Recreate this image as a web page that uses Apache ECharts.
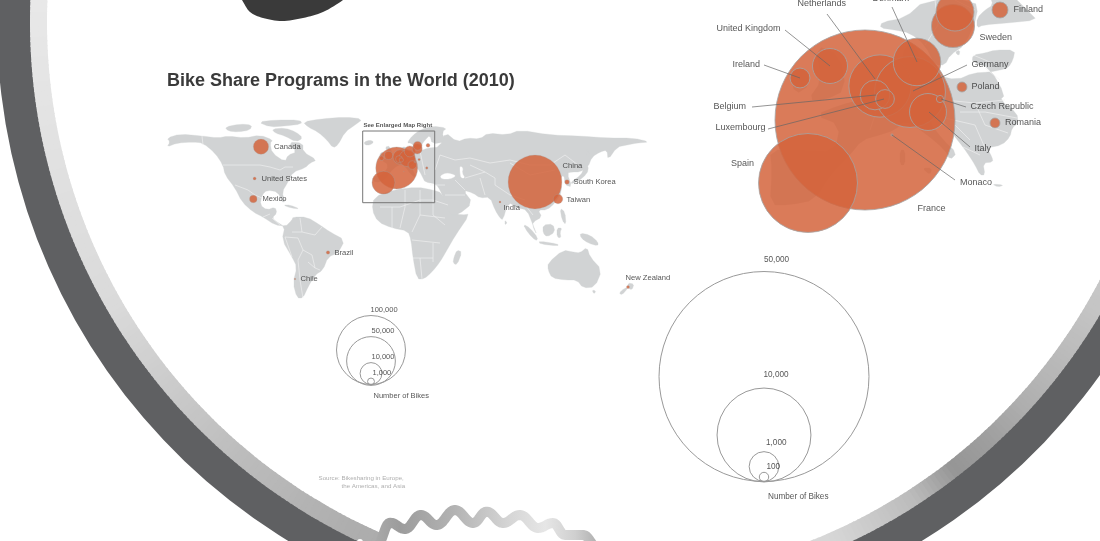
<!DOCTYPE html>
<html><head><meta charset="utf-8">
<style>html,body{margin:0;padding:0;background:#fff}#c{width:1100px;height:541px}</style>
<script src="https://cdn.jsdelivr.net/npm/echarts@6/dist/echarts.min.js"></script>
</head><body><div id="c"></div>
<script>
// ---- bikes per country, world map
const worldNames=['Canada','United States','Mexico','Brazil','Chile','China','South Korea','Taiwan','India','New Zealand'];
const worldBikes=[4900,190,1180,250,50,61000,430,1900,80,190];
const worldX=[261,254.6,253.3,328,295,535,567,558,500,628];
const worldY=[146.7,178.5,199,252.5,279,182,182,199,202,287];
const worldLabelX=[273.5,261,262,334,300,562,573,566,503,625];
const worldLabelY=[147,178.5,199,253,279,165.5,182,200,208,277.5];
// ---- bikes per country, Europe
const europeNames=['France','Spain','United Kingdom','Ireland','Netherlands','Germany','Belgium','Luxembourg','Denmark','Italy','Czech Republic','Monaco','Sweden','Norway','Finland','Poland','Romania'];
const europeBikes=[36750,11100,1390,450,4400,5700,1000,400,2560,1550,60,5,2100,1640,290,113,113];
const europeX=[865,808,830,800,880,910,875,885,917,928,940,892,953,955,1000,962,995];
const europeY=[120,183,66,78,86,92,95,99,62,112,99,135,26,12,10,87,123];
const europeInsetX=[396.7,383.5,388.6,381.6,400.2,407.2,399,401.3,409.8,412.3,415.1,403.9,417.2,417.6,428,419.1,426.8];
const europeInsetY=[168,182.6,155.4,158.2,157,158.4,159.1,160,151.4,165,161.9,171.5,149,145.8,145.3,159.6,168];
// ---- labels on the enlarged map
const enlargedLabelNames=['Netherlands','Denmark','United Kingdom','Ireland','Belgium','Luxembourg','Spain','France','Monaco','Italy','Czech Republic','Germany','Poland','Romania','Sweden','Finland'];
const enlargedLabelX=[797,872,716,732,713,715,730.5,917,959.5,974,970,971,971,1004.5,979,1013];
const enlargedLabelY=[4,-1,29,65,107,128,164,209,183,149,107,65,87,123,37.5,9.5];
// ---- leader lines [x1,y1,x2,y2]
const leaderLines=[[827,14,875,79],[785,30,830,66],[764,65,800,78],[752,107,876,95],[768,129,884,99],[892,7,917,62],[967,65,913,91],[966,107,941,99],[970,147,929,112],[955,180,892,135]];
// ---- size legends
const smallLegendValues=[100000,50000,10000,1000];
const smallLegendCenterY=[350,361,373.5,381.5];
const smallLegendText=['100,000','50,000','10,000','1,000','Number of Bikes'];
const smallLegendTextX=[370,371,371,372,373];
const smallLegendTextY=[310,331,357,373,396];
const bigLegendValues=[50000,10000,1000,100];
const bigLegendCenterY=[376.5,435,466.5,477];
const bigLegendText=['50,000','10,000','1,000','100','Number of Bikes'];
const bigLegendTextX=[763.5,763,765.5,766,767.5];
const bigLegendTextY=[260,375,443,466.5,497];
const sourceText=['Source: Bikesharing in Europe,','the Americas, and Asia'];
const sourceX=[318,341];
const sourceY=[478,486];
// ---- land outlines
const landNorthAmerica=[[167,138],[180,134],[202,136],[218,138],[228,136],[245,138],[260,135],[273,140],[270,143],[272,153],[285,162],[288,155],[297,152],[288,142],[303,143],[303,152],[317,160],[310,163],[305,168],[293,172],[288,182],[282,192],[285,202],[282,202],[278,192],[267,190],[262,195],[260,205],[267,210],[275,207],[277,213],[272,218],[277,222],[285,227],[292,220],[293,217],[307,217],[320,225],[330,232],[345,240],[338,253],[328,257],[323,270],[315,275],[308,287],[303,298],[297,298],[293,283],[297,267],[292,257],[282,240],[285,226],[275,225],[263,217],[253,212],[242,202],[235,188],[225,175],[223,165],[215,153],[203,143],[193,142],[177,143],[167,147],[170,142]];
const landGreenland=[[303,122],[320,119],[345,117],[363,119],[355,125],[345,132],[338,145],[333,148],[327,140],[318,132],[308,127]];
const landArctic1=[[225,127],[240,124],[252,125],[250,130],[238,132],[228,131]];
const landArctic2=[[258,122],[275,120],[300,120],[302,124],[285,126],[270,127]];
const landBaffin=[[272,129],[285,128],[296,132],[303,138],[296,142],[285,136],[275,133]];
const landIceland=[[364,142],[370,140],[374,142],[370,145],[365,145]];
const landCuba=[[283,205],[290,205],[300,209],[291,208]];
const landAfrica=[[374,197],[393,190],[417,187],[433,190],[442,193],[452,213],[462,215],[470,214],[455,236],[447,250],[440,262],[432,272],[424,279],[417,279],[413,258],[411,240],[408,231],[392,228],[378,222],[372,210]];
const landEurasia=[[372,177],[383,175],[389,165],[381,160],[392,157],[400,150],[404,146],[408,150],[420,151],[428,148],[440,147],[445,132],[457,142],[467,138],[480,139],[488,133],[507,135],[520,130],[550,135],[580,136],[607,138],[633,138],[650,142],[637,143],[627,145],[617,147],[608,160],[607,150],[600,152],[592,157],[588,167],[580,172],[572,172],[567,173],[572,187],[565,185],[564,175],[560,178],[562,192],[555,203],[547,210],[538,210],[542,217],[533,222],[533,227],[537,235],[533,225],[527,210],[518,208],[508,202],[503,220],[500,218],[495,210],[490,197],[480,198],[473,193],[463,190],[473,203],[458,215],[450,215],[443,197],[440,190],[436,184],[425,182],[423,178],[420,172],[415,165],[412,168],[416,177],[412,176],[404,165],[398,165],[390,172],[385,180],[375,183]];
const landScandinavia=[[407,143],[412,136],[420,130],[432,126],[447,128],[442,132],[445,142],[432,144],[430,135],[425,140],[420,147],[415,147],[411,143]];
const landBritain=[[385,147],[390,146],[393,157],[386,158],[388,152]];
const landIreland=[[380,153],[384,152],[384,157],[380,158]];
const landJapan=[[586,162],[589,170],[583,178],[572,184],[571,182],[581,175],[584,168]];
const landSakhalin=[[587,148],[589,150],[588,158],[586,156]];
const landPhilippines=[[560,208],[565,212],[566,225],[562,220]];
const landBorneo=[[543,225],[553,224],[555,232],[547,237],[543,233]];
const landSumatra=[[523,224],[530,228],[538,238],[536,241],[528,233]];
const landJava=[[539,241],[558,244],[558,246],[540,244]];
const landSulawesi=[[557,228],[562,228],[560,232],[561,238],[557,237]];
const landNewGuinea=[[580,233],[590,235],[598,242],[598,246],[588,243],[581,238]];
const landAustralia=[[548,263],[563,250],[573,252],[580,253],[587,247],[590,257],[602,270],[595,287],[583,288],[577,280],[565,280],[552,278],[548,270]];
const landTasmania=[[592,290],[596,291],[594,294]];
const landNZNorth=[[628,283],[634,284],[632,290],[628,288]];
const landNZSouth=[[628,288],[622,295],[619,293],[625,288]];
const landMadagascar=[[457,250],[462,252],[457,265],[453,263],[454,257]];
const landSriLanka=[[505,220],[507,223],[505,225]];
// enlarged Europe
const landEuropeCore=[[905,45],[915,45],[925,70],[935,75],[957,80],[973,73],[990,72],[1000,70],[1008,68],[1013,60],[1015,50],[995,50],[985,53],[973,55],[972,62],[990,68],[1005,95],[1000,100],[1017,113],[1018,123],[1012,128],[1010,137],[1002,145],[987,148],[992,157],[993,162],[983,163],[985,175],[980,175],[975,165],[970,157],[963,147],[955,137],[947,125],[940,118],[928,120],[943,140],[957,153],[950,160],[945,150],[925,133],[905,120],[895,130],[880,135],[862,140],[850,155],[830,175],[815,200],[790,205],[770,205],[772,170],[770,150],[800,150],[835,152],[840,125],[815,115],[840,105],[860,100],[875,85],[900,70]];
const landEuropeScand=[[880,28],[882,22],[905,18],[925,0],[975,0],[978,15],[965,45],[950,55],[945,65],[935,65],[925,45],[910,33],[895,30]];
const landEuropeFinland=[[990,-4],[993,5],[985,10],[977,18],[977,28],[983,25],[1007,23],[1037,20],[1030,13],[1013,-4]];
const landEuropeBritain=[[815,45],[840,55],[846,90],[825,100],[808,100],[822,80]];
const landEuropeIreland=[[790,72],[805,68],[810,85],[795,95]];
const landEuropeIslands1=[[900,150],[905,150],[905,165],[900,165]];
const landEuropeIslands2=[[922,168],[932,168],[930,175]];
const landEuropeIslands3=[[992,184],[1004,185],[998,187]];
const landEuropeIslands4=[[955,52],[960,50],[959,56]];
const landPolygons=[landNorthAmerica,landGreenland,landArctic1,landArctic2,landBaffin,landIceland,landCuba,landAfrica,landEurasia,landScandinavia,landBritain,landIreland,landJapan,landSakhalin,landPhilippines,landBorneo,landSumatra,landJava,landSulawesi,landNewGuinea,landAustralia,landTasmania,landNZNorth,landNZSouth,landMadagascar,landSriLanka,landEuropeCore,landEuropeScand,landEuropeFinland,landEuropeBritain,landEuropeIreland,landEuropeIslands1,landEuropeIslands2,landEuropeIslands3,landEuropeIslands4];
// inland seas
const seaCaspian=[[460,166],[463,168],[462,173],[465,178],[461,178],[460,172]];
const seaBlack=[[440,176],[446,173],[452,174],[456,176],[450,179],[442,179]];
const seaPolygons=[seaCaspian,seaBlack];
// country borders
const borderLines=[
 [[202,136],[203,145]],[[223,165],[260,165],[270,167],[280,170],[285,167],[293,167]],
 [[235,185],[248,190],[255,195],[262,198]],[[263,217],[270,214]],[[272,218],[280,225]],
 [[300,218],[302,232],[315,235]],[[315,235],[322,227]],[[285,237],[298,238],[303,250],[312,255],[315,268],[320,270]],
 [[298,260],[300,280],[303,298]],[[303,250],[298,260]],[[308,262],[315,268]],[[292,232],[302,232]],[[285,237],[292,257]],
 [[380,207],[400,207],[420,200],[433,200]],[[405,190],[405,207],[400,228]],[[420,190],[420,215],[412,232]],[[433,190],[433,215],[445,225]],
 [[420,215],[445,218]],[[412,240],[440,243]],[[413,258],[433,258]],[[420,258],[422,279]],[[392,207],[392,228]],[[433,243],[433,262]],[[433,200],[448,205]],
 [[440,155],[455,160],[470,158],[490,163],[510,160],[530,165],[550,165],[565,155],[578,165]],[[510,163],[530,175],[555,170]],[[495,185],[510,195],[525,200]],
 [[465,178],[485,172],[495,178],[495,185]],[[455,180],[465,190]],[[480,178],[485,195]],[[525,205],[533,215]],[[445,195],[465,195]],[[470,165],[485,172]],[[435,170],[440,155]],
 [[420,151],[425,175]],[[430,185],[445,185]],
 [[905,60],[925,73]],[[885,85],[905,110]],[[905,110],[935,115]],[[935,75],[945,100]],[[945,100],[975,103]],[[975,103],[1005,100]],[[960,112],[985,112],[1017,118]],
 [[975,103],[985,125],[1008,133]],[[945,118],[975,125],[985,148]],[[955,125],[970,140]],[[963,147],[980,155]],[[973,55],[990,62]],[[985,68],[1000,80]],[[880,100],[870,130]],
 [[925,45],[938,25],[935,0]],[[955,0],[975,10]]
];
// wave + blob + ring colour stops [angle, grey]
const waveLine=[[377,545],[390,522.7],[405,529],[420.7,515],[436.7,525],[455,510],[473,523],[486.7,511.7],[503,523],[520,515],[538,528],[553,523],[565,535],[583,535],[598,548]];
const blobLine=[[236,-10],[242,0],[250,12],[263,18],[282,21],[303,18],[323,12],[343,0],[352,-10]];
const ringStops=[[10,210],[30,197],[42,176],[47,160],[52,149],[57,187],[66,214],[72,220]];
const ringStopsLeft=[[113.8,172],[116.7,174],[130,188],[150,218],[182,232],[200,235]];

const ringCx=605, ringCy=22;
const rad=d=>d*Math.PI/180;
function ringSectors(stops){
  const out=[];
  for(let i=0;i<stops.length-1;i++){
    const [a0,c0]=stops[i],[a1,c1]=stops[i+1];
    const n=Math.ceil((a1-a0)/0.5);
    for(let k=0;k<n;k++){
      const t=(k+0.5)/n, g=Math.round(c0+(c1-c0)*t);
      const s=a0+(a1-a0)*k/n, e=a0+(a1-a0)*(k+1)/n+(k<n-1||i<stops.length-2?0.15:0);
      out.push({type:'sector',z:1,silent:true,shape:{cx:ringCx,cy:ringCy,r0:558,r:575,startAngle:rad(s),endAngle:rad(e)},style:{fill:`rgb(${g},${g},${g})`}});
    }
  }
  return out;
}
// curves through hand-read outlines
function curve(p,steps){
  const out=[];
  for(let i=0;i<p.length-1;i++){
    const a=p[Math.max(i-1,0)],b=p[i],c=p[i+1],d=p[Math.min(i+2,p.length-1)];
    for(let k=0;k<steps;k++){
      const t=k/steps,t2=t*t,t3=t2*t;
      out.push([0,1].map(j=>0.5*(2*b[j]+(c[j]-a[j])*t+(2*a[j]-5*b[j]+4*c[j]-d[j])*t2+(3*b[j]-a[j]-3*c[j]+d[j])*t3)));
    }
  }
  out.push(p[p.length-1]);
  return out;
}
function sCurve(p,steps){
  const out=[];
  for(let i=0;i<p.length-1;i++){
    const a=p[i],d=p[i+1],dx=(d[0]-a[0])*0.42;
    const b=[a[0]+dx,a[1]],c=[d[0]-dx,d[1]];
    for(let k=0;k<steps;k++){
      const t=k/steps,u=1-t;
      out.push([0,1].map(j=>u*u*u*a[j]+3*u*u*t*b[j]+3*u*t*t*c[j]+t*t*t*d[j]));
    }
  }
  out.push(p[p.length-1]);
  return out;
}
function rounded(p){
  const out=[];
  for(let i=0;i<p.length;i++){
    const a=p[i],b=p[(i+1)%p.length];
    out.push([a[0]*0.75+b[0]*0.25,a[1]*0.75+b[1]*0.25],[a[0]*0.25+b[0]*0.75,a[1]*0.25+b[1]*0.75]);
  }
  return out;
}
const chart=echarts.init(document.getElementById('c'),null,{renderer:'canvas'});
const FONT='"Liberation Sans",Arial,sans-serif';
function bubbles(xs,ys,vals,k,bw,extra){
  return {type:'scatter',silent:true,animation:false,clip:false,symbol:'circle',
    symbolSize:v=>k*Math.sqrt(v[2]),
    data:vals.map((v,i)=>[xs[i],ys[i],v]),
    itemStyle:{color:'rgba(212,100,60,0.85)',opacity:1,borderColor:'rgba(165,165,165,0.9)',borderWidth:bw},...extra};
}
function rings(x,ys,vals,k){
  return {type:'scatter',silent:true,animation:false,clip:false,symbol:'circle',
    symbolSize:v=>k*Math.sqrt(v[2]),
    data:vals.map((v,i)=>[x,ys[i],v]),
    itemStyle:{color:'rgba(0,0,0,0)',opacity:1,borderColor:'#999',borderWidth:1},z:4};
}
function labels(names,xs,ys,size,color,weight){
  return {type:'scatter',silent:true,animation:false,clip:false,symbolSize:1,z:6,
    itemStyle:{color:'rgba(0,0,0,0)'},
    data:names.map((n,i)=>({name:n,value:[xs[i],ys[i]]})),
    label:{show:true,position:'right',distance:0,formatter:'{b}',fontFamily:FONT,fontSize:size,color:color||'#2b2b2b',fontWeight:weight||'normal'},
    labelLayout:{hideOverlap:false}};
}
function polys(list,fill,z){
  return {type:'custom',silent:true,animation:false,clip:false,z:z,coordinateSystem:'cartesian2d',
    data:list.map((p,i)=>[p[0][0],p[0][1],i]),
    renderItem:(params,api)=>({type:'polygon',shape:{points:rounded(list[api.value(2)]).map(q=>api.coord(q))},style:{fill:fill,stroke:fill,lineWidth:0.3}})};
}
function lines(list,color,w,z){
  return {type:'custom',silent:true,animation:false,clip:false,z:z,coordinateSystem:'cartesian2d',
    data:list.map((p,i)=>[p[0][0],p[0][1],i]),
    renderItem:(params,api)=>({type:'polyline',shape:{points:list[api.value(2)].map(q=>api.coord(q))},style:{fill:null,stroke:color,lineWidth:w}})};
}
const leaderPaths=leaderLines.map(l=>[[l[0],l[1]],[l[2],l[3]]]);
const grads=(stops)=>new echarts.graphic.LinearGradient(0,0,1,0,stops.map(s=>({offset:s[0],color:s[1]})));
chart.setOption({
  animation:false,backgroundColor:'#fff',
  title:{text:'Bike Share Programs in the World (2010)',left:167,top:72,padding:0,textStyle:{fontFamily:FONT,fontSize:18,fontWeight:'bold',color:'#3a3a3a'}},
  grid:{left:0,right:0,top:0,bottom:0},
  xAxis:{type:'value',min:0,max:1100,show:false},
  yAxis:{type:'value',min:0,max:541,inverse:true,show:false},
  graphic:{elements:[
    {type:'sector',z:0,silent:true,shape:{cx:ringCx,cy:ringCy,r0:574,r:608,startAngle:rad(10),endAngle:rad(200)},style:{fill:'#5f6062'}},
    ...ringSectors(ringStops),...ringSectors(ringStopsLeft),
    {type:'circle',z:2,silent:true,shape:{cx:360,cy:542,r:3},style:{fill:'#fff'}},
    {type:'polyline',z:3,silent:true,shape:{points:sCurve(waveLine,10)},style:{fill:null,lineWidth:10,lineCap:'butt',lineJoin:'round',stroke:grads([[0,'#ababab'],[0.12,'#9c9c9c'],[0.35,'#b2b2b2'],[0.6,'#d6d6d6'],[0.75,'#e6e6e6'],[0.88,'#cfcfcf'],[1,'#a8a8a8']])}},
    {type:'polygon',z:3,silent:true,shape:{points:curve(blobLine,8)},style:{fill:'#3a3a3a'}}
  ]},
  series:[
    polys(landPolygons,'#d1d3d4',2),
    polys(seaPolygons,'#fff',2.5),
    lines(borderLines,'#f4f4f4',0.6,2.6),
    bubbles(worldX,worldY,worldBikes,0.218,0.3,{z:3}),
    bubbles(europeInsetX,europeInsetY,europeBikes,0.218,0.4,{z:3}),
    bubbles(europeX,europeY,europeBikes,0.939,0.9,{z:3}),
    lines(leaderPaths,'#666',0.7,5),
    lines([[[362.7,131],[434.7,131],[434.7,202.7],[362.7,202.7],[362.7,131]]],'#777',1,5),
    rings(371,smallLegendCenterY,smallLegendValues,0.218),
    rings(764,bigLegendCenterY,bigLegendValues,0.939),
    labels(worldNames,worldLabelX,worldLabelY,7.6),
    labels(enlargedLabelNames,enlargedLabelX,enlargedLabelY,9),
    labels(smallLegendText,smallLegendTextX,smallLegendTextY,7.5),
    labels(bigLegendText,bigLegendTextX,bigLegendTextY,8.2),
    labels(sourceText,sourceX,sourceY,6.2,'#9a9a9a'),
    labels(['See Enlarged Map Right'],[363],[125],6,'#2b2b2b','bold')
  ]
});
</script></body></html>
